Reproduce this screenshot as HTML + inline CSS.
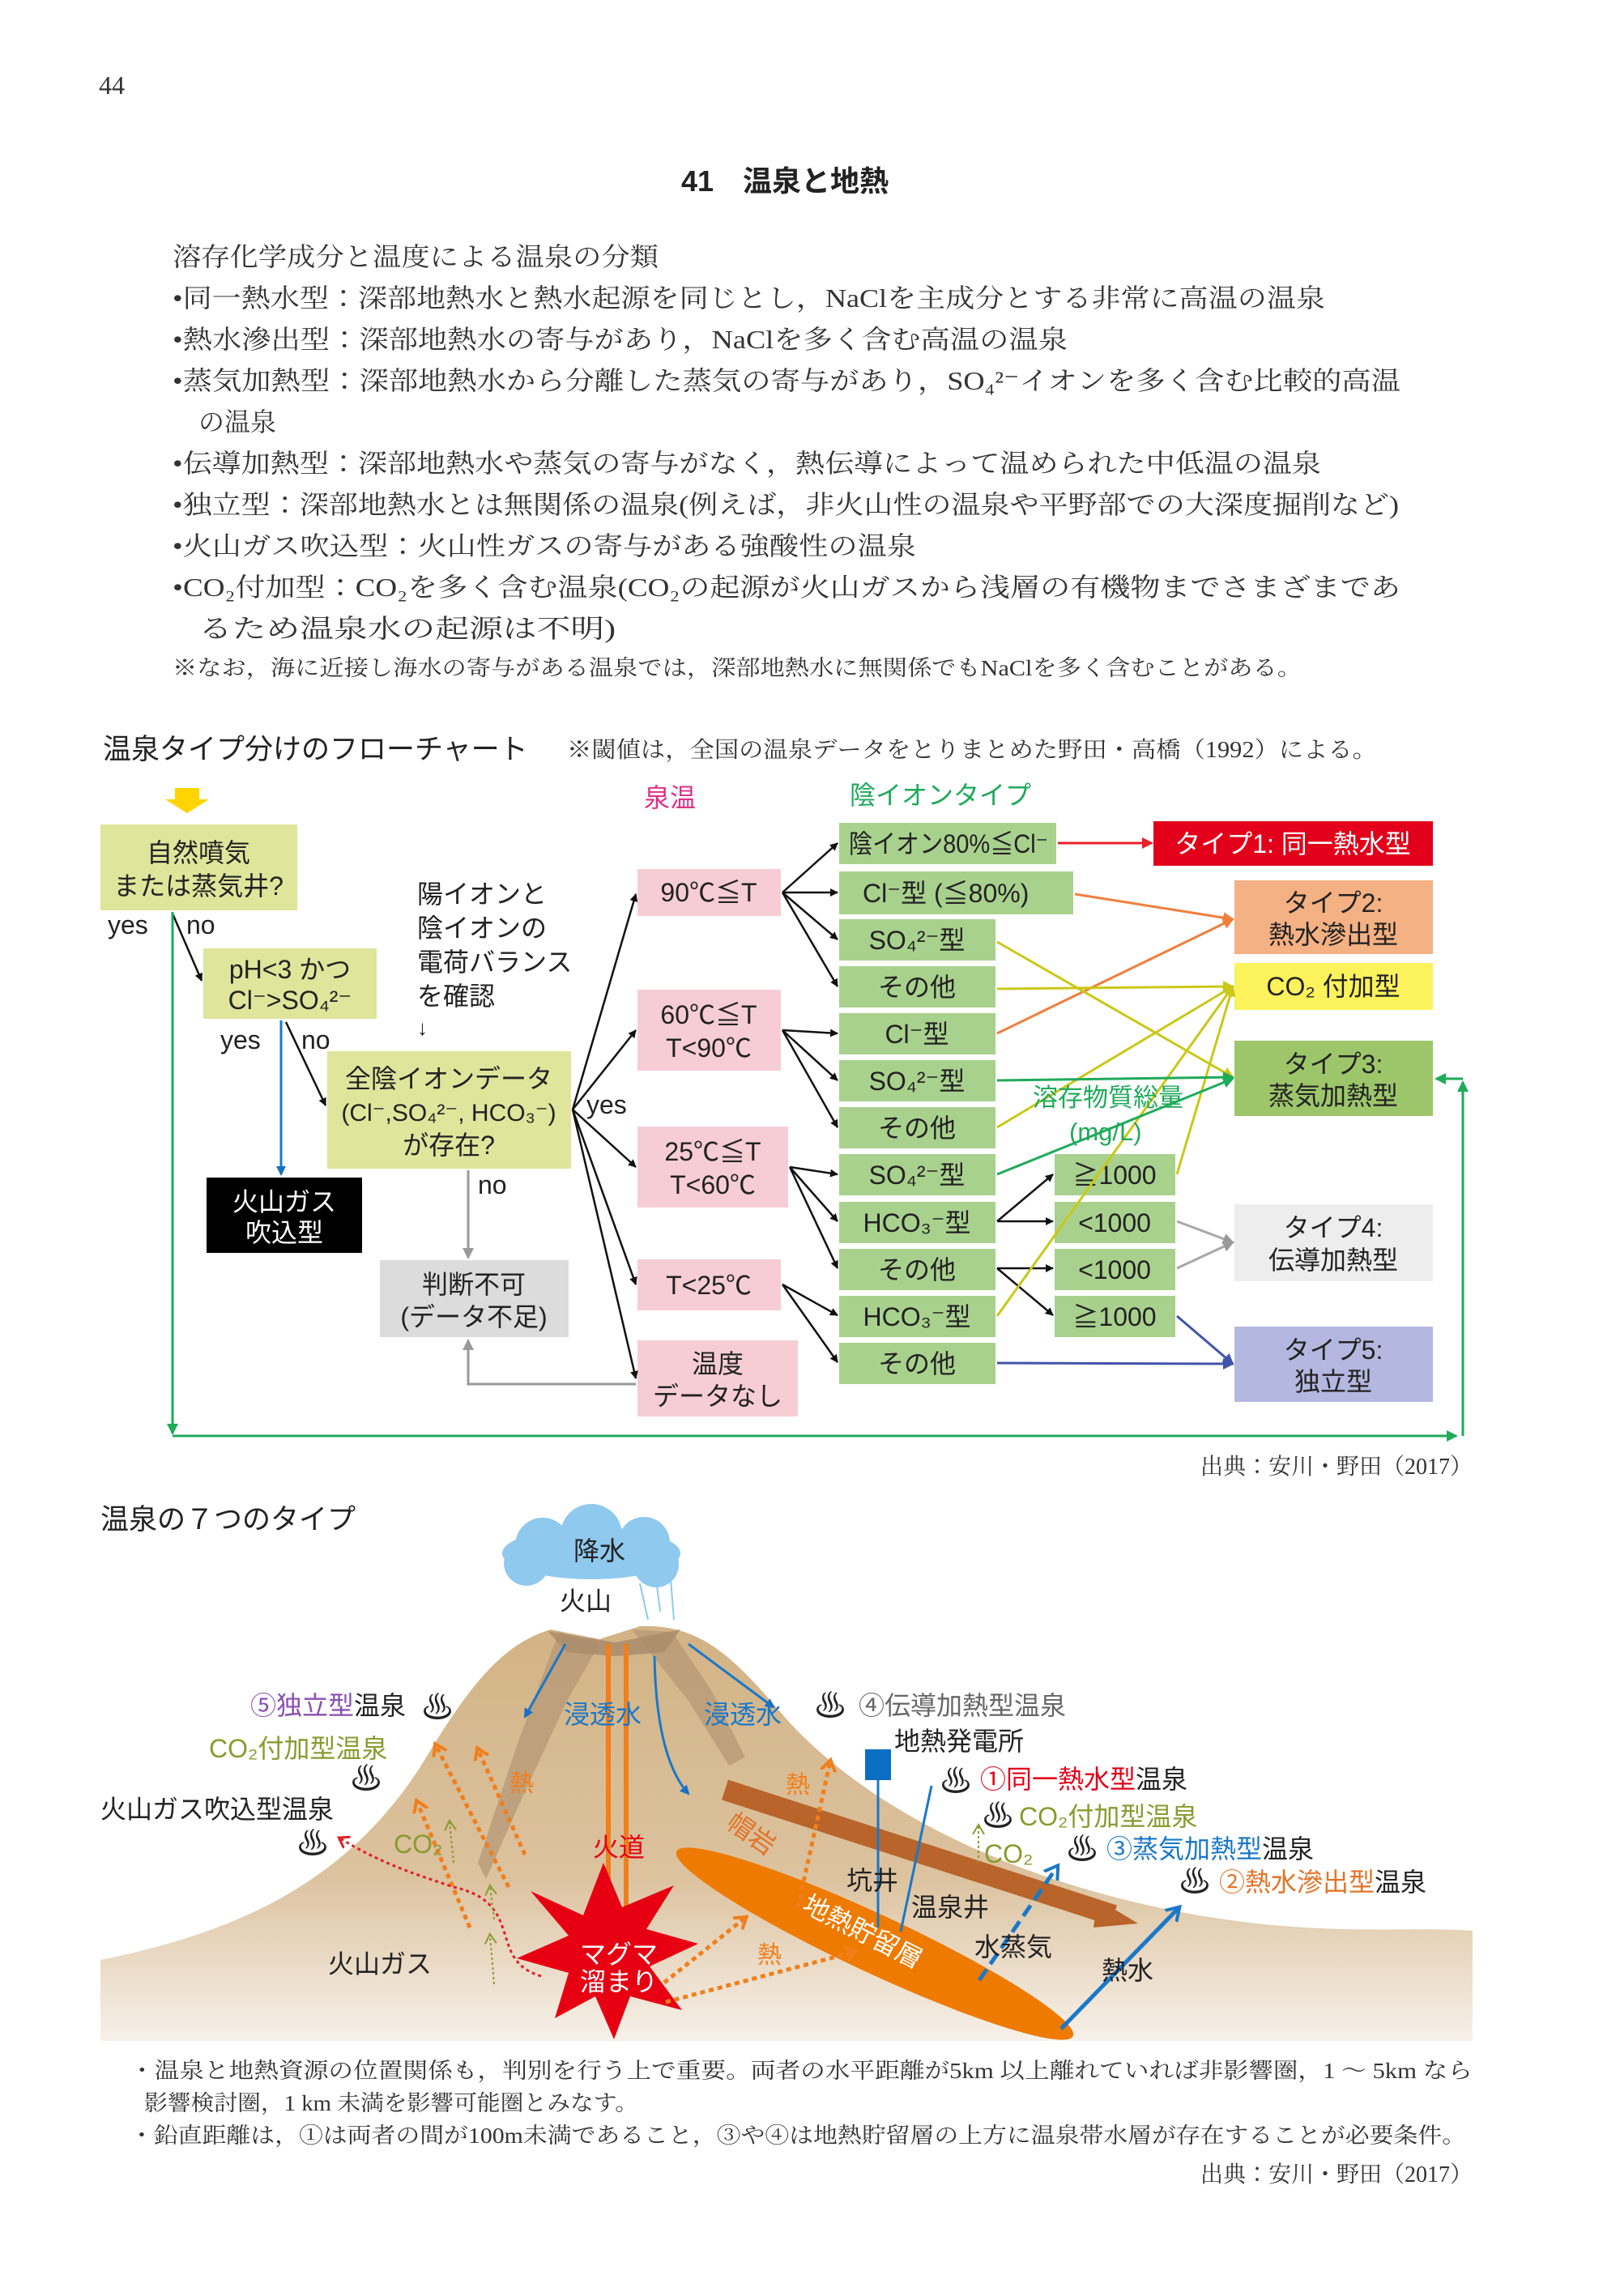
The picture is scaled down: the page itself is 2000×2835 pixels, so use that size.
<!DOCTYPE html>
<html><head><meta charset="utf-8">
<style>
html,body{margin:0;padding:0;background:#fff;}
svg{display:block;}
.m{font-family:"Liberation Serif","Noto Serif CJK JP","Noto Serif CJK SC",serif;fill:#333;}
.s{font-family:"Liberation Sans","Noto Sans CJK JP",sans-serif;fill:#222;}
</style></head><body>
<svg width="2000" height="2835" viewBox="0 0 2000 2835" xmlns="http://www.w3.org/2000/svg">
<defs>
<marker id="ak" markerWidth="10" markerHeight="10" refX="9" refY="5" orient="auto" markerUnits="userSpaceOnUse"><path d="M0,0 L10,5 L0,10 z" fill="#111"/></marker>
<marker id="ag" markerWidth="14" markerHeight="14" refX="12" refY="7" orient="auto" markerUnits="userSpaceOnUse"><path d="M0,0 L14,7 L0,14 z" fill="#999"/></marker>
<marker id="ar" markerWidth="14" markerHeight="14" refX="12" refY="7" orient="auto" markerUnits="userSpaceOnUse"><path d="M0,0 L14,7 L0,14 z" fill="#e8202a"/></marker>
<marker id="ao" markerWidth="14" markerHeight="14" refX="12" refY="7" orient="auto" markerUnits="userSpaceOnUse"><path d="M0,0 L14,7 L0,14 z" fill="#f07f3c"/></marker>
<marker id="ay" markerWidth="14" markerHeight="14" refX="12" refY="7" orient="auto" markerUnits="userSpaceOnUse"><path d="M0,0 L14,7 L0,14 z" fill="#c9c818"/></marker>
<marker id="agr" markerWidth="14" markerHeight="14" refX="12" refY="7" orient="auto" markerUnits="userSpaceOnUse"><path d="M0,0 L14,7 L0,14 z" fill="#1faa5a"/></marker>
<marker id="ab" markerWidth="12" markerHeight="12" refX="10" refY="6" orient="auto" markerUnits="userSpaceOnUse"><path d="M0,0 L12,6 L0,12 z" fill="#1a6fc4"/></marker>
<marker id="an" markerWidth="14" markerHeight="14" refX="12" refY="7" orient="auto" markerUnits="userSpaceOnUse"><path d="M0,0 L14,7 L0,14 z" fill="#4054a8"/></marker>
<marker id="avo" markerWidth="22" markerHeight="22" refX="12" refY="11" orient="auto" markerUnits="userSpaceOnUse"><path d="M0,2 L14,11 L0,20" fill="none" stroke="#f07f1c" stroke-width="4"/></marker>
<marker id="avr" markerWidth="20" markerHeight="20" refX="10" refY="10" orient="auto" markerUnits="userSpaceOnUse"><path d="M0,2 L12,10 L0,18" fill="none" stroke="#e0202a" stroke-width="3"/></marker>
<marker id="avb" markerWidth="24" markerHeight="24" refX="14" refY="12" orient="auto" markerUnits="userSpaceOnUse"><path d="M0,2 L16,12 L0,22" fill="none" stroke="#1a78c8" stroke-width="4"/></marker>
<marker id="avl" markerWidth="18" markerHeight="18" refX="10" refY="9" orient="auto" markerUnits="userSpaceOnUse"><path d="M0,2 L12,9 L0,16" fill="none" stroke="#8a9a30" stroke-width="2"/></marker>
<linearGradient id="ground" x1="0" y1="0" x2="0" y2="1">
<stop offset="0" stop-color="#d2b385"/><stop offset="0.6" stop-color="#dcc29e"/><stop offset="1" stop-color="#f7f1ea"/></linearGradient>
</defs>

<text x="122" y="116" class="m" font-size="32">44</text>
<text x="969" y="236" class="s" font-size="36" font-weight="bold" text-anchor="middle">41　温泉と地熱</text>

<g class="m" font-size="32">
<text x="213" y="328" textLength="600" lengthAdjust="spacingAndGlyphs">溶存化学成分と温度による温泉の分類</text>
<text x="213" y="379" textLength="1423" lengthAdjust="spacingAndGlyphs">•同一熱水型：深部地熱水と熱水起源を同じとし，NaClを主成分とする非常に高温の温泉</text>
<text x="213" y="430" textLength="1105" lengthAdjust="spacingAndGlyphs">•熱水滲出型：深部地熱水の寄与があり，NaClを多く含む高温の温泉</text>
<text x="213" y="481" textLength="1516" lengthAdjust="spacingAndGlyphs">•蒸気加熱型：深部地熱水から分離した蒸気の寄与があり，SO₄²⁻イオンを多く含む比較的高温</text>
<text x="245" y="532">の温泉</text>
<text x="213" y="583" textLength="1418" lengthAdjust="spacingAndGlyphs">•伝導加熱型：深部地熱水や蒸気の寄与がなく，熱伝導によって温められた中低温の温泉</text>
<text x="213" y="634" textLength="1514" lengthAdjust="spacingAndGlyphs">•独立型：深部地熱水とは無関係の温泉(例えば，非火山性の温泉や平野部での大深度掘削など)</text>
<text x="213" y="685" textLength="918" lengthAdjust="spacingAndGlyphs">•火山ガス吹込型：火山性ガスの寄与がある強酸性の温泉</text>
<text x="213" y="736" textLength="1516" lengthAdjust="spacingAndGlyphs">•CO₂付加型：CO₂を多く含む温泉(CO₂の起源が火山ガスから浅層の有機物までさまざまであ</text>
<text x="245" y="787" textLength="515" lengthAdjust="spacingAndGlyphs">るため温泉水の起源は不明)</text>
<text x="213" y="834" font-size="27" textLength="1394" lengthAdjust="spacingAndGlyphs">※なお，海に近接し海水の寄与がある温泉では，深部地熱水に無関係でもNaClを多く含むことがある。</text>
</g>

<text x="127" y="937" class="s" font-size="35">温泉タイプ分けのフローチャート</text>
<text x="700" y="935" class="m" font-size="28" textLength="1000" lengthAdjust="spacingAndGlyphs">※閾値は，全国の温泉データをとりまとめた野田・高橋（1992）による。</text>

<path d="M216,973 L246,973 L246,987 L258,987 L231,1004 L204,987 L216,987 z" fill="#ffd400"/>

<g class="s" font-size="32">
<text x="827" y="996" text-anchor="middle" style="fill:#e0308a">泉温</text>
<text x="1049" y="993" style="fill:#1faa5a">陰イオンタイプ</text>

<rect x="124" y="1018" width="243" height="106" fill="#dfe59b"/>
<text x="245" y="1064" text-anchor="middle">自然噴気</text>
<text x="245" y="1105" text-anchor="middle">または蒸気井?</text>
<text x="133" y="1153">yes</text><text x="230" y="1153">no</text>
<line x1="213" y1="1128" x2="249" y2="1211" stroke="#111" stroke-width="2.5" marker-end="url(#ak)"/>
<rect x="251" y="1171" width="214" height="87" fill="#dfe59b"/>
<text x="358" y="1208" text-anchor="middle">pH&lt;3 かつ</text>
<text x="358" y="1246" text-anchor="middle">Cl⁻&gt;SO₄²⁻</text>
<text x="272" y="1295">yes</text><text x="372" y="1295">no</text>
<line x1="347" y1="1260" x2="347" y2="1450" stroke="#1a78c8" stroke-width="3" marker-end="url(#ab)"/>
<line x1="353" y1="1262" x2="402" y2="1365" stroke="#111" stroke-width="2.5" marker-end="url(#ak)"/>
<rect x="255" y="1454" width="192" height="93" fill="#000"/>
<text x="351" y="1495" text-anchor="middle" style="fill:#fff">火山ガス</text>
<text x="351" y="1533" text-anchor="middle" style="fill:#fff">吹込型</text>

<text x="515" y="1115">陽イオンと</text>
<text x="515" y="1157">陰イオンの</text>
<text x="515" y="1199">電荷バランス</text>
<text x="515" y="1241">を確認</text>
<text x="515" y="1278" font-size="26">↓</text>

<rect x="404" y="1298" width="301" height="145" fill="#dfe59b"/>
<text x="554" y="1343" text-anchor="middle">全陰イオンデータ</text>
<text x="554" y="1384" text-anchor="middle" font-size="30">(Cl⁻,SO₄²⁻, HCO₃⁻)</text>
<text x="554" y="1425" text-anchor="middle">が存在?</text>
<text x="724" y="1375">yes</text>
<text x="590" y="1474">no</text>
<line x1="578" y1="1445" x2="578" y2="1553" stroke="#999" stroke-width="3" marker-end="url(#ag)"/>
<rect x="469" y="1556" width="233" height="95" fill="#dcdcdc"/>
<text x="585" y="1597" text-anchor="middle">判断不可</text>
<text x="585" y="1637" text-anchor="middle">(データ不足)</text>
<polyline points="785,1709 578,1709 578,1655" fill="none" stroke="#999" stroke-width="3" marker-end="url(#ag)"/>

<rect x="787" y="1073" width="177" height="58" fill="#f7cdd5"/>
<text x="875" y="1113" text-anchor="middle">90℃≦T</text>
<rect x="787" y="1222" width="177" height="100" fill="#f7cdd5"/>
<text x="875" y="1264" text-anchor="middle">60℃≦T</text><text x="875" y="1305" text-anchor="middle">T&lt;90℃</text>
<rect x="787" y="1391" width="186" height="100" fill="#f7cdd5"/>
<text x="880" y="1433" text-anchor="middle">25℃≦T</text><text x="880" y="1474" text-anchor="middle">T&lt;60℃</text>
<rect x="787" y="1555" width="177" height="63" fill="#f7cdd5"/>
<text x="875" y="1598" text-anchor="middle">T&lt;25℃</text>
<rect x="787" y="1655" width="198" height="94" fill="#f7cdd5"/>
<text x="886" y="1695" text-anchor="middle">温度</text><text x="886" y="1735" text-anchor="middle">データなし</text>

<g stroke="#111" stroke-width="2.5" marker-end="url(#ak)">
<line x1="707" y1="1370" x2="785" y2="1104"/>
<line x1="707" y1="1370" x2="785" y2="1272"/>
<line x1="707" y1="1370" x2="785" y2="1441"/>
<line x1="707" y1="1370" x2="785" y2="1586"/>
<line x1="707" y1="1370" x2="785" y2="1702"/>
<line x1="966" y1="1102" x2="1034" y2="1041"/>
<line x1="966" y1="1102" x2="1034" y2="1102"/>
<line x1="966" y1="1102" x2="1034" y2="1160"/>
<line x1="966" y1="1102" x2="1034" y2="1218"/>
<line x1="966" y1="1272" x2="1034" y2="1276"/>
<line x1="966" y1="1272" x2="1034" y2="1334"/>
<line x1="966" y1="1272" x2="1034" y2="1392"/>
<line x1="975" y1="1441" x2="1034" y2="1450"/>
<line x1="975" y1="1441" x2="1034" y2="1508"/>
<line x1="975" y1="1441" x2="1034" y2="1566"/>
<line x1="966" y1="1586" x2="1034" y2="1624"/>
<line x1="966" y1="1586" x2="1034" y2="1682"/>
<line x1="1231" y1="1508" x2="1300" y2="1450"/>
<line x1="1231" y1="1508" x2="1300" y2="1508"/>
<line x1="1231" y1="1566" x2="1300" y2="1566"/>
<line x1="1231" y1="1566" x2="1300" y2="1624"/>
</g>

<g fill="#a9d18e">
<rect x="1036" y="1016" width="268" height="51"/>
<rect x="1036" y="1076" width="289" height="53"/>
<rect x="1036" y="1135" width="193" height="51"/>
<rect x="1036" y="1193" width="193" height="51"/>
<rect x="1036" y="1251" width="193" height="51"/>
<rect x="1036" y="1309" width="193" height="51"/>
<rect x="1036" y="1367" width="193" height="51"/>
<rect x="1036" y="1425" width="193" height="51"/>
<rect x="1036" y="1484" width="193" height="51"/>
<rect x="1036" y="1542" width="193" height="51"/>
<rect x="1036" y="1600" width="193" height="51"/>
<rect x="1036" y="1658" width="193" height="51"/>
<rect x="1302" y="1425" width="149" height="51"/>
<rect x="1302" y="1484" width="149" height="51"/>
<rect x="1302" y="1542" width="149" height="51"/>
<rect x="1302" y="1600" width="149" height="51"/>
</g>
<text x="1048" y="1053" textLength="246" lengthAdjust="spacingAndGlyphs">陰イオン80%≦Cl⁻</text>
<text x="1065" y="1114">Cl⁻型 (≦80%)</text>
<g text-anchor="middle">
<text x="1132" y="1172">SO₄²⁻型</text>
<text x="1132" y="1230">その他</text>
<text x="1132" y="1288">Cl⁻型</text>
<text x="1132" y="1346">SO₄²⁻型</text>
<text x="1132" y="1404">その他</text>
<text x="1132" y="1462">SO₄²⁻型</text>
<text x="1132" y="1521">HCO₃⁻型</text>
<text x="1132" y="1579">その他</text>
<text x="1132" y="1637">HCO₃⁻型</text>
<text x="1132" y="1695">その他</text>
<text x="1376" y="1462">≧1000</text>
<text x="1376" y="1521">&lt;1000</text>
<text x="1376" y="1579">&lt;1000</text>
<text x="1376" y="1637">≧1000</text>
</g>

<rect x="1424" y="1014" width="345" height="55" fill="#e2001a"/>
<text x="1596" y="1053" text-anchor="middle" style="fill:#fff">タイプ1: 同一熱水型</text>
<rect x="1524" y="1087" width="245" height="91" fill="#f4b183"/>
<text x="1646" y="1126" text-anchor="middle">タイプ2:</text><text x="1646" y="1165" text-anchor="middle">熱水滲出型</text>
<rect x="1524" y="1189" width="245" height="58" fill="#fbf25c"/>
<text x="1646" y="1229" text-anchor="middle">CO₂ 付加型</text>
<rect x="1524" y="1285" width="245" height="93" fill="#9dc66b"/>
<text x="1646" y="1325" text-anchor="middle">タイプ3:</text><text x="1646" y="1364" text-anchor="middle">蒸気加熱型</text>
<rect x="1524" y="1487" width="245" height="95" fill="#ededed"/>
<text x="1646" y="1527" text-anchor="middle">タイプ4:</text><text x="1646" y="1567" text-anchor="middle">伝導加熱型</text>
<rect x="1524" y="1638" width="245" height="93" fill="#b4b8e0"/>
<text x="1646" y="1678" text-anchor="middle">タイプ5:</text><text x="1646" y="1717" text-anchor="middle">独立型</text>

<line x1="1306" y1="1041" x2="1422" y2="1041" stroke="#e8202a" stroke-width="3" marker-end="url(#ar)"/>
<g stroke="#f07f3c" stroke-width="3" marker-end="url(#ao)">
<line x1="1327" y1="1104" x2="1522" y2="1135"/>
<line x1="1231" y1="1276" x2="1522" y2="1135"/>
</g>
<g stroke="#c9c818" stroke-width="3" marker-end="url(#ay)">
<line x1="1231" y1="1163" x2="1522" y2="1330"/>
<line x1="1231" y1="1221" x2="1522" y2="1218"/>
<line x1="1231" y1="1392" x2="1522" y2="1218"/>
<line x1="1453" y1="1450" x2="1522" y2="1218"/>
<line x1="1231" y1="1625" x2="1522" y2="1218"/>
</g>
<g stroke="#1faa5a" stroke-width="3" marker-end="url(#agr)">
<line x1="1231" y1="1334" x2="1522" y2="1330"/>
<polyline fill="none" points="1231,1450 1330,1410 1490,1345 1522,1332"/>
</g>
<text x="1275" y="1366" font-size="31" style="fill:#1faa5a">溶存物質総量</text>
<text x="1320" y="1408" font-size="31" style="fill:#1faa5a">(mg/L)</text>
<g stroke="#a8a8a8" stroke-width="3" marker-end="url(#ag)">
<line x1="1453" y1="1508" x2="1522" y2="1534"/>
<line x1="1453" y1="1566" x2="1522" y2="1534"/>
</g>
<g stroke="#4054a8" stroke-width="3" marker-end="url(#an)">
<line x1="1453" y1="1625" x2="1522" y2="1684"/>
<line x1="1231" y1="1683" x2="1522" y2="1684"/>
</g>
<g stroke="#1faa5a" stroke-width="3" fill="none">
<line x1="213" y1="1126" x2="213" y2="1770" marker-end="url(#agr)"/>
<line x1="213" y1="1773" x2="1798" y2="1773" marker-end="url(#agr)"/>
<line x1="1806" y1="1773" x2="1806" y2="1336" marker-end="url(#agr)"/>
<line x1="1806" y1="1332" x2="1773" y2="1332" marker-end="url(#agr)"/>
</g>
</g>
<text x="1818" y="1820" class="m" font-size="28" text-anchor="end">出典：安川・野田（2017）</text>

<text x="124" y="1888" class="s" font-size="35">温泉の７つのタイプ</text>

<path d="M124,2420 C300,2385 430,2320 520,2180 C580,2080 620,2030 680,2012 L740,2024 L790,2008 C860,2005 900,2040 960,2110 C1060,2230 1250,2325 1480,2365 C1640,2392 1740,2378 1818,2384 L1818,2520 L124,2520 Z" fill="url(#ground)"/>
<path d="M690,2015 L740,2030 L700,2100 L640,2230 L600,2320 L590,2300 L640,2150 Z" fill="#b89a78" opacity="0.8"/>
<path d="M780,2012 L830,2015 L880,2090 L920,2170 L900,2180 L850,2100 Z" fill="#b89a78" opacity="0.8"/>
<path d="M676,2014 L760,2028 L840,2012 L820,2040 L760,2045 L700,2040 Z" fill="#a98a6a" opacity="0.8"/>

<g fill="#8fc9ee">
<ellipse cx="730" cy="1918" rx="110" ry="32"/>
<circle cx="670" cy="1908" r="34"/><circle cx="730" cy="1895" r="38"/><circle cx="795" cy="1905" r="32"/>
<circle cx="650" cy="1930" r="28"/><circle cx="810" cy="1932" r="28"/>
</g>
<text x="740" y="1926" class="s" font-size="32" text-anchor="middle">降水</text>
<g stroke="#8fc9ee" stroke-width="2"><line x1="790" y1="1955" x2="800" y2="2000"/><line x1="810" y1="1950" x2="815" y2="1990"/><line x1="828" y1="1950" x2="832" y2="2000"/></g>
<text x="723" y="1988" class="s" font-size="32" text-anchor="middle">火山</text>

<line x1="751" y1="2030" x2="751" y2="2400" stroke="#f07f1c" stroke-width="6"/>
<line x1="773" y1="2030" x2="773" y2="2400" stroke="#f07f1c" stroke-width="6"/>
<line x1="895" y1="2210" x2="1375" y2="2365" stroke="#b8642a" stroke-width="26"/>
<polygon points="1355,2345 1405,2375 1350,2380" fill="#b8642a"/>
<ellipse cx="1080" cy="2400" rx="270" ry="36" transform="rotate(25 1080 2400)" fill="#ee7a00"/>
<text x="1060" y="2395" class="s" font-size="32" transform="rotate(27 1060 2395)" text-anchor="middle" style="fill:#fff">地熱貯留層</text>
<text x="895" y="2255" class="s" font-size="32" transform="rotate(35 895 2255)" style="fill:#e2742a">帽岩</text>

<polygon fill="#e60012" points="745,2300 768,2355 832,2328 798,2382 862,2400 802,2428 842,2482 778,2465 758,2518 735,2465 685,2492 702,2436 638,2418 702,2390 655,2335 720,2365"/>
<text x="764" y="2424" class="s" font-size="32" text-anchor="middle" style="fill:#fff">マグマ</text>
<text x="764" y="2458" class="s" font-size="32" text-anchor="middle" style="fill:#fff">溜まり</text>

<g stroke="#1a78c8" stroke-width="3" fill="none" marker-end="url(#ab)">
<line x1="698" y1="2030" x2="648" y2="2120"/>
<line x1="850" y1="2030" x2="955" y2="2108"/>
<path d="M808,2045 Q810,2170 850,2215"/>
</g>
<rect x="1068" y="2160" width="32" height="38" fill="#0a6ec4"/>
<line x1="1084" y1="2198" x2="1084" y2="2380" stroke="#1a78c8" stroke-width="3"/>
<line x1="1150" y1="2205" x2="1112" y2="2385" stroke="#1a78c8" stroke-width="3"/>
<line x1="1209" y1="2445" x2="1305" y2="2305" stroke="#1a78c8" stroke-width="5" stroke-dasharray="16,8" marker-end="url(#avb)"/>
<line x1="1310" y1="2505" x2="1455" y2="2356" stroke="#1a78c8" stroke-width="5" marker-end="url(#avb)"/>

<g stroke="#f07f1c" stroke-width="5" stroke-dasharray="6,5" fill="none" marker-end="url(#avo)">
<line x1="580" y1="2380" x2="515" y2="2225"/>
<line x1="628" y1="2330" x2="538" y2="2155"/>
<line x1="648" y1="2290" x2="590" y2="2160"/>
<line x1="820" y1="2448" x2="920" y2="2368"/>
<line x1="822" y1="2472" x2="1055" y2="2410"/>
<line x1="985" y1="2355" x2="1025" y2="2175"/>
</g>
<path d="M668,2440 C600,2420 650,2350 560,2330 C500,2310 470,2300 420,2270" stroke="#e0202a" stroke-width="3" stroke-dasharray="4,4" fill="none" marker-end="url(#avr)"/>
<g stroke="#8a9a30" stroke-width="2" stroke-dasharray="3,3" fill="none" marker-end="url(#avl)">
<line x1="560" y1="2300" x2="555" y2="2250"/>
<line x1="610" y1="2370" x2="605" y2="2330"/>
<line x1="610" y1="2450" x2="605" y2="2390"/>
<line x1="1208" y1="2300" x2="1208" y2="2255"/>
</g>

<g class="s" font-size="32">
<text x="696" y="2128" style="fill:#1a78c8">浸透水</text>
<text x="869" y="2128" style="fill:#1a78c8">浸透水</text>
<text x="629" y="2212" style="fill:#f07f1c" font-size="30">熱</text>
<text x="970" y="2214" style="fill:#f07f1c" font-size="30">熱</text>
<text x="935" y="2424" style="fill:#f07f1c" font-size="30">熱</text>
<text x="764" y="2292" text-anchor="middle" style="fill:#e60012">火道</text>
<text x="486" y="2288" style="fill:#8a9a30">CO₂</text>
<text x="1215" y="2300" style="fill:#8a9a30">CO₂</text>
<text x="1045" y="2333">坑井</text>
<text x="1125" y="2366">温泉井</text>
<text x="1203" y="2415">水蒸気</text>
<text x="1360" y="2444">熱水</text>
<text x="405" y="2436">火山ガス</text>
<text x="309" y="2117"><tspan style="fill:#8a4fb0">⑤独立型</tspan>温泉</text>
<text x="258" y="2170" style="fill:#8a9a30">CO₂付加型温泉</text>
<text x="124" y="2245">火山ガス吹込型温泉</text>
<text x="1060" y="2117" style="fill:#666">④伝導加熱型温泉</text>
<text x="1104" y="2161">地熱発電所</text>
<text x="1210" y="2208"><tspan style="fill:#e2001a">①同一熱水型</tspan>温泉</text>
<text x="1258" y="2254" style="fill:#8a9a30">CO₂付加型温泉</text>
<text x="1366" y="2294"><tspan style="fill:#1a78c8">③蒸気加熱型</tspan>温泉</text>
<text x="1505" y="2335"><tspan style="fill:#e2742a">②熱水滲出型</tspan>温泉</text>
</g>
<g class="s" font-size="40">
<text x="520" y="2122">♨</text>
<text x="432" y="2210">♨</text>
<text x="366" y="2290">♨</text>
<text x="1005" y="2120">♨</text>
<text x="1160" y="2213">♨</text>
<text x="1212" y="2256">♨</text>
<text x="1316" y="2297">♨</text>
<text x="1455" y="2337">♨</text>
</g>

<g class="m" font-size="27">
<text x="160" y="2566" textLength="1658" lengthAdjust="spacingAndGlyphs">・温泉と地熱資源の位置関係も，判別を行う上で重要。両者の水平距離が5km 以上離れていれば非影響圏，1 ～ 5km なら</text>
<text x="178" y="2606" textLength="610" lengthAdjust="spacingAndGlyphs">影響検討圏，1 km 未満を影響可能圏とみなす。</text>
<text x="160" y="2646" textLength="1650" lengthAdjust="spacingAndGlyphs">・鉛直距離は，①は両者の間が100m未満であること，③や④は地熱貯留層の上方に温泉帯水層が存在することが必要条件。</text>
</g>
<text x="1818" y="2694" class="m" font-size="28" text-anchor="end">出典：安川・野田（2017）</text>
</svg>
</body></html>
